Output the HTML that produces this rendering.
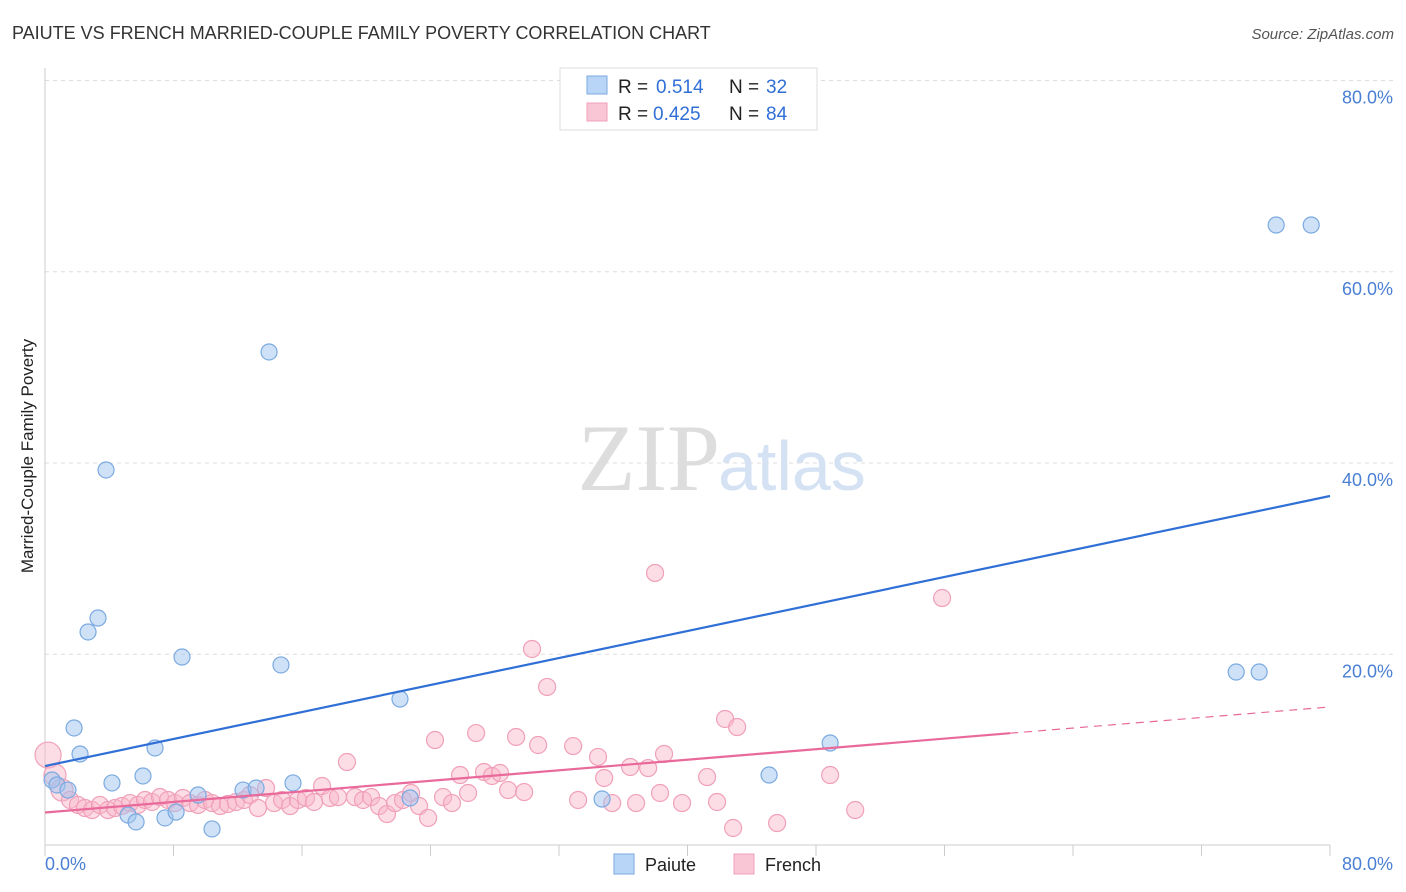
<!DOCTYPE html>
<html><head><meta charset="utf-8"><style>
body{margin:0;background:#fff;font-family:"Liberation Sans",sans-serif;}
svg{display:block}
</style></head><body>
<svg id="chart" width="1406" height="892">
<text x="12" y="39" font-size="18" fill="#333">PAIUTE VS FRENCH MARRIED-COUPLE FAMILY POVERTY CORRELATION CHART</text>
<text x="1394" y="39" font-size="15" fill="#555" font-style="italic" text-anchor="end">Source: ZipAtlas.com</text>
<text x="33" y="456" font-size="17" fill="#222" text-anchor="middle" transform="rotate(-90 33 456)">Married-Couple Family Poverty</text>
<g id="grid"></g>
<g id="yticks"></g>
<line x1="45" y1="68" x2="45" y2="845" stroke="#ccc"/>
<line x1="45" y1="845" x2="1330" y2="845" stroke="#ccc"/>
<g id="xticks"></g>
<text x="45" y="870" font-size="18" fill="#4a7fd4">0.0%</text>
<text x="1393" y="870" font-size="18" fill="#4a7fd4" text-anchor="end">80.0%</text>
<text x="720" y="490" font-size="95" fill="#ddd" font-family="Liberation Serif,serif" text-anchor="end">ZIP</text>
<text x="718" y="490" font-size="70" fill="#d4e2f4">atlas</text>
<g id="pink"></g>
<g id="blue"></g>
<g id="lines"></g>
<g>
<rect x="560" y="68" width="257" height="62" fill="#fff" stroke="#ddd"/>
<rect x="587" y="76" width="20" height="18" fill="#b8d4f6" stroke="#7aaae0"/>
<text x="618" y="93" font-size="19" fill="#222">R =</text>
<text x="656" y="93" font-size="19" fill="#2f6fd6">0.514</text>
<text x="729" y="93" font-size="19" fill="#222">N =</text>
<text x="766" y="93" font-size="19" fill="#2f6fd6">32</text>
<rect x="587" y="103" width="20" height="18" fill="#f9c6d6" stroke="#f0a0b8"/>
<text x="618" y="120" font-size="19" fill="#222">R =</text>
<text x="653" y="120" font-size="19" fill="#2f6fd6">0.425</text>
<text x="729" y="120" font-size="19" fill="#222">N =</text>
<text x="766" y="120" font-size="19" fill="#2f6fd6">84</text>
</g>
<g>
<rect x="614" y="854" width="20" height="20" fill="#b8d4f6" stroke="#7aaae0"/>
<text x="645" y="871" font-size="18" fill="#222">Paiute</text></g>
<g>
<rect x="734" y="854" width="20" height="20" fill="#f9c6d6" stroke="#f0a0b8"/>
<text x="765" y="871" font-size="18" fill="#222">French</text></g>
</svg>
<script>
const yTicks=[20,40,60,80];
const yTickLabels=["20.0%","40.0%","60.0%","80.0%"];
const xTickVals=[0,8,16,24,32,40,48,56,64,72,80];
const paiuteX=[0.44,0.75,1.43,1.81,2.18,2.68,3.30,3.80,4.17,5.17,5.67,6.10,6.85,7.47,8.16,8.53,9.53,10.40,12.33,13.14,13.95,14.69,15.44,22.10,22.73,34.68,45.08,48.88,74.16,75.59,76.65,78.83];
const paiuteY=[6.85,6.33,5.80,12.29,9.57,22.33,23.79,39.27,6.54,3.19,2.46,7.27,10.20,2.88,3.50,19.71,5.28,1.73,5.80,6.01,51.61,18.88,6.54,15.32,4.97,4.86,7.37,10.72,18.14,18.14,64.89,64.89];
const frenchX=[0.19,0.62,1.06,1.56,2.05,2.49,2.93,3.42,3.92,4.36,4.79,5.29,5.79,6.23,6.66,7.16,7.66,8.09,8.59,9.03,9.53,9.96,10.40,10.90,11.39,11.89,12.39,12.76,13.26,13.76,14.26,14.76,15.26,15.75,16.25,16.75,17.25,17.75,18.24,18.80,19.30,19.80,20.30,20.80,21.29,21.79,22.29,22.79,23.29,23.85,24.28,24.78,25.34,25.84,26.34,26.84,27.33,27.83,28.33,28.83,29.33,29.83,30.32,30.70,31.26,32.88,33.19,34.43,34.81,35.31,36.43,36.80,37.55,37.98,38.29,38.54,39.66,41.22,41.84,42.34,42.84,43.09,45.58,48.88,50.44,55.85];
const frenchY=[9.46,7.37,5.80,4.76,4.24,3.92,3.71,4.24,3.71,3.92,4.13,4.44,4.24,4.76,4.55,5.07,4.76,4.44,4.97,4.44,4.24,4.76,4.44,4.13,4.34,4.55,4.76,5.28,3.92,6.01,4.44,4.76,4.13,4.76,4.97,4.55,6.22,4.97,5.07,8.73,5.07,4.76,5.07,4.13,3.29,4.44,4.76,5.49,4.13,2.88,11.03,5.07,4.44,7.37,5.49,11.76,7.69,7.27,7.58,5.80,11.35,5.59,20.55,10.51,16.58,10.40,4.76,9.26,7.06,4.44,8.21,4.44,8.10,28.50,5.49,9.57,4.44,7.16,4.55,13.23,1.83,12.39,2.35,7.37,3.71,25.88];
const paiuteTrend=[8.31,36.55];
const frenchTrend=[3.45,14.49];
const frenchSolidEnd=60.09;
const NS="http://www.w3.org/2000/svg";
const sx=v=>45+v*16.0625, sy=v=>845.5-v*9.5625;
function mk(t,p,a){const e=document.createElementNS(NS,t);for(const k in a)e.setAttribute(k,a[k]);p.appendChild(e);return e;}
const grid=document.getElementById('grid'),yt=document.getElementById('yticks');
yTicks.forEach((v,i)=>{
 const l=mk('line',grid,{x1:45,x2:1393,y1:sy(v),y2:sy(v),stroke:'#ddd','stroke-dasharray':'4,4'});
 
 
 const t=mk('text',yt,{x:1393,y:sy(v)+23,'font-size':18,fill:'#4a7fd4','text-anchor':'end'});
 t.textContent=yTickLabels[i];
 
 
});
const xt=document.getElementById('xticks');
xTickVals.forEach(v=>{
 const l=mk('line',xt,{x1:sx(v),x2:sx(v),y1:845,y2:856,stroke:'#ccc'});
 
 
});
const pk=document.getElementById('pink');
frenchX.forEach((x,i)=>{
 const r=i<3?(i==0?13:11):8.5;
 const c=mk('circle',pk,{cx:sx(x),cy:sy(frenchY[i]),r:r,fill:'rgba(248,180,200,0.45)',stroke:'#f0a0b8','stroke-width':1.2});
 
 
});
const bl=document.getElementById('blue');
paiuteX.forEach((x,i)=>{
 const c=mk('circle',bl,{cx:sx(x),cy:sy(paiuteY[i]),r:8,fill:'rgba(160,196,240,0.5)',stroke:'#7aaae0','stroke-width':1.2});
 
 
});
const ln=document.getElementById('lines');
const b=mk('line',ln,{x1:sx(0),y1:sy(paiuteTrend[0]),x2:sx(80),y2:sy(paiuteTrend[1]),stroke:'#2f6fd6','stroke-width':2.2});


const fy=x=>frenchTrend[0]+(frenchTrend[1]-frenchTrend[0])*x/80;
const p1=mk('line',ln,{x1:sx(0),y1:sy(fy(0)),x2:sx(frenchSolidEnd),y2:sy(fy(frenchSolidEnd)),stroke:'#e8699a','stroke-width':2.2});


const p2=mk('line',ln,{x1:sx(frenchSolidEnd),y1:sy(fy(frenchSolidEnd)),x2:sx(80),y2:sy(fy(80)),stroke:'#e8699a','stroke-width':1.2,'stroke-dasharray':'8,6'});


</script>
</body></html>
